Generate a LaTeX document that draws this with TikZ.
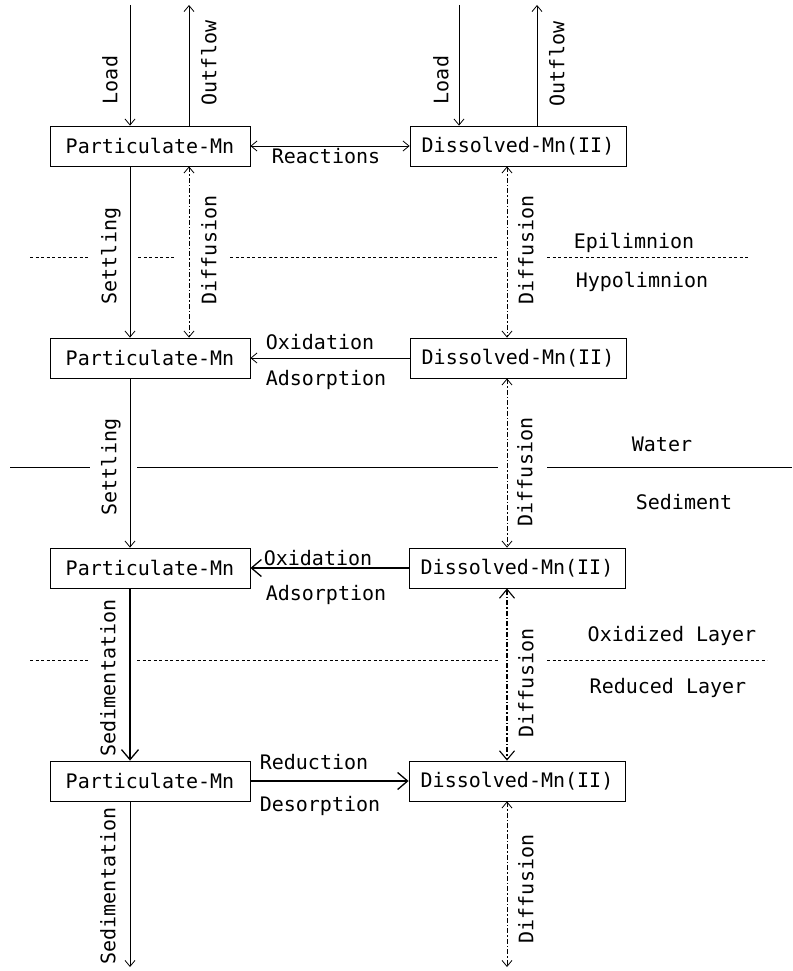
\documentclass[tikz,border=0pt]{standalone}
\usepackage{fontspec}
\setmonofont{DejaVu Sans Mono}
\usetikzlibrary{arrows.meta}
\begin{document}
\begin{tikzpicture}[x=1pt,y=-1pt,
  font=\ttfamily\fontsize{20}{24}\selectfont,
  box/.style={draw, line width=0.8pt, minimum height=40pt, inner sep=0pt},
  lbl/.style={inner sep=0pt, text height=14.5pt, text depth=0pt, anchor=center},
  vlbl/.style={lbl, rotate=90},
  flow/.style={line width=0.8pt, -{Straight Barb[length=6pt,width=10pt]}},
  flowboth/.style={line width=0.8pt, {Straight Barb[length=6pt,width=10pt]}-{Straight Barb[length=6pt,width=10pt]}},
  bigflow/.style={line width=1.3pt, -{Straight Barb[length=10pt,width=17pt,line width=1.3pt]}},
  diff/.style={line width=0.8pt, dash pattern=on 5pt off 2pt on 1.5pt off 2pt,
    {Straight Barb[length=6pt,width=10pt]}-{Straight Barb[length=6pt,width=10pt]}},
  bigdiff/.style={line width=1.1pt, dash pattern=on 5pt off 2pt on 1.5pt off 2pt,
    {Straight Barb[length=9pt,width=15pt]}-{Straight Barb[length=9pt,width=15pt]}},
  bound/.style={line width=0.6pt, dash pattern=on 3pt off 2.5pt},
  solidbound/.style={line width=0.8pt}
]
\useasboundingbox (0,0) rectangle (792,971);

% boxes
\node[box, minimum width=200pt] (p1) at (150,146) {Particulate-Mn};
\node[box, minimum width=216pt] (d1) at (518,146) {Dissolved-Mn(II)};
\node[box, minimum width=200pt] (p2) at (150,358) {Particulate-Mn};
\node[box, minimum width=216pt] (d2) at (518,358) {Dissolved-Mn(II)};
\node[box, minimum width=200pt] (p3) at (150,568) {Particulate-Mn};
\node[box, minimum width=216pt] (d3) at (517,568) {Dissolved-Mn(II)};
\node[box, minimum width=200pt] (p4) at (150,781) {Particulate-Mn};
\node[box, minimum width=216pt] (d4) at (517,781) {Dissolved-Mn(II)};

% free ends
\coordinate (loadL) at (130,5);
\coordinate (outL) at (189,5);
\coordinate (loadR) at (459,5);
\coordinate (outR) at (537,5);
\coordinate (sedbot) at (130,967);
\coordinate (difbot) at (507,967);

% top flows
\draw[flow] (loadL) -- (loadL |- p1.north);
\draw[flow] (outL |- p1.north) -- (outL);
\draw[flow] (loadR) -- (loadR |- d1.north);
\draw[flow] (outR |- d1.north) -- (outR);

% row 1
\draw[flowboth] (p1.east) -- (d1.west);
\draw[flow] (loadL |- p1.south) -- (loadL |- p2.north);
\draw[diff] (outL |- p1.south) -- (outL |- p2.north);
\draw[diff] (difbot |- d1.south) -- (difbot |- d2.north);

% row 2
\draw[flow] (d2.west) -- (p2.east);
\draw[flow] (loadL |- p2.south) -- (loadL |- p3.north);
\draw[diff] (difbot |- d2.south) -- (difbot |- d3.north);

% row 3
\draw[bigflow] (d3.west) -- (p3.east);
\draw[bigflow] (loadL |- p3.south) -- (loadL |- p4.north);
\draw[bigdiff] (difbot |- d3.south) -- (difbot |- d4.north);

% row 4
\draw[bigflow] (p4.east) -- (d4.west);
\draw[flow] (sedbot |- p4.south) -- (sedbot);
\draw[diff] (difbot |- d4.south) -- (difbot);

% boundaries
\draw[bound] (30,257) -- (89,257) (138,257) -- (175,257) (230,257) -- (498,257) (547,257) -- (750,257);
\draw[solidbound] (10,467) -- (90,467) (137,467) -- (498,467) (547,467) -- (792,467);
\draw[bound] (30,660) -- (88,660) (137,660) -- (498,660) (547,660) -- (767,660);

% horizontal labels
\node[lbl] (reac) at (326,156) {Reactions};
\node[lbl] (ox2) at (320,342) {Oxidation};
\node[lbl] (ad2) at (326,378) {Adsorption};
\node[lbl] (ox3) at (318,558) {Oxidation};
\node[lbl] (ad3) at (326,593) {Adsorption};
\node[lbl] (red4) at (314,762) {Reduction};
\node[lbl] (des4) at (320,804) {Desorption};

\node[lbl] (epi) at (634,241) {Epilimnion};
\node[lbl] (hypo) at (642,280) {Hypolimnion};
\node[lbl] (water) at (662,444) {Water};
\node[lbl] (sedi) at (684,502) {Sediment};
\node[lbl] (oxl) at (672,634) {Oxidized Layer};
\node[lbl] (redl) at (668,686) {Reduced Layer};

% vertical labels
\node[vlbl] (vload1) at (110,80) {Load};
\node[vlbl] (vout1) at (209,63) {Outflow};
\node[vlbl] (vload2) at (441,80) {Load};
\node[vlbl] (vout2) at (557,64) {Outflow};
\node[vlbl] (vset1) at (109,256) {Settling};
\node[vlbl] (vdif1) at (209,250) {Diffusion};
\node[vlbl] (vdif2) at (526,250) {Diffusion};
\node[vlbl] (vset2) at (109,467) {Settling};
\node[vlbl] (vdif3) at (525,472) {Diffusion};
\node[vlbl] (vsed1) at (108,678) {Sedimentation};
\node[vlbl] (vdif4) at (526,683) {Diffusion};
\node[vlbl] (vsed2) at (108,886) {Sedimentation};
\node[vlbl] (vdif5) at (526,889) {Diffusion};
\end{tikzpicture}
\end{document}
